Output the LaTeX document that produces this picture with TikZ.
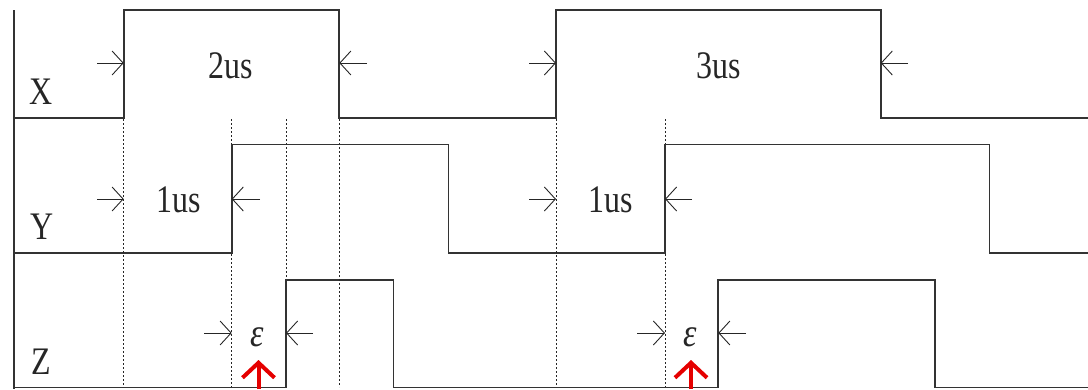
\documentclass[tikz,border=0pt]{standalone}
\usepackage{fontspec}
\setmainfont{Liberation Serif}
\usetikzlibrary{arrows.meta}
\begin{document}
\begin{tikzpicture}[x=1pt,y=-1pt,
  sig/.style={line width=1.7pt, line join=miter, draw=black!80},
  guide/.style={line width=0.9pt, draw=black!85, dash pattern=on 2pt off 2pt},
  dimarrow/.style={line width=0.9pt, draw=black!85, -{Straight Barb[length=11pt,width=24pt]}},
  redarrow/.style={line width=4pt, draw=red!90!black, -{Straight Barb[length=15pt,width=32pt]}},
  lbl/.style={font=\fontsize{39}{42}\selectfont, anchor=base, inner sep=0pt, text=black!85},
  eps/.style={font=\fontsize{40}{42}\selectfont\itshape, anchor=base, inner sep=0pt, text=black!85}
]
\useasboundingbox (0,0) rectangle (1088,389);

% axis
\draw[sig] (14,10) -- (14,389);

% signals
\draw[sig] (14,118) -- (123.7,118) -- (123.7,10) -- (339.3,10) -- (339.3,118)
  -- (556,118) -- (556,10) -- (880.7,10) -- (880.7,118) -- (1088,118);
\draw[sig] (14,253) -- (231.7,253) -- (231.7,144.5) -- (448.5,144.5) -- (448.5,253)
  -- (665,253) -- (665,144.5) -- (989.5,144.5) -- (989.5,253) -- (1088,253);
\draw[sig] (14,387.5) -- (286,387.5) -- (286,280) -- (393.5,280) -- (393.5,387.5)
  -- (718.3,387.5) -- (718.3,280) -- (935,280) -- (935,387.5) -- (1088,387.5);

% guide lines
\draw[guide] (123.7,119) -- (123.7,387);
\draw[guide] (231.7,119) -- (231.7,144);
\draw[guide] (231.7,254) -- (231.7,387);
\draw[guide] (286,119) -- (286,279);
\draw[guide] (339.3,119) -- (339.3,387);
\draw[guide] (556,119) -- (556,387);
\draw[guide] (665,119) -- (665,144);
\draw[guide] (665,254) -- (665,387);

% dimension arrow anchor points
\coordinate (x1a) at (97,63);   \coordinate (x1b) at (123.7,63);
\coordinate (x2a) at (367,63);  \coordinate (x2b) at (339.3,63);
\coordinate (x3a) at (529,63);  \coordinate (x3b) at (556,63);
\coordinate (x4a) at (908,63);  \coordinate (x4b) at (880.7,63);
\coordinate (y1a) at (97,199);  \coordinate (y1b) at (123.7,199);
\coordinate (y2a) at (260,199); \coordinate (y2b) at (231.7,199);
\coordinate (y3a) at (529,199); \coordinate (y3b) at (556,199);
\coordinate (y4a) at (692,199); \coordinate (y4b) at (665,199);
\coordinate (z1a) at (204,333); \coordinate (z1b) at (231.7,333);
\coordinate (z2a) at (313,333); \coordinate (z2b) at (286,333);
\coordinate (z3a) at (637,333); \coordinate (z3b) at (665,333);
\coordinate (z4a) at (746,333); \coordinate (z4b) at (718.3,333);

\foreach \p in {x1,x2,x3,x4,y1,y2,y3,y4,z1,z2,z3,z4}
  \draw[dimarrow] (\p a) -- (\p b);

% red markers
\coordinate (r1a) at (258.5,389); \coordinate (r1b) at (258.5,360);
\coordinate (r2a) at (691,389);   \coordinate (r2b) at (691,360);
\draw[redarrow] (r1a) -- (r1b);
\draw[redarrow] (r2a) -- (r2b);

% labels
\node[lbl] (lx) at (41.5,104.3) {\scalebox{0.82}[1]{X}};
\node[lbl] (ly) at (42.5,239.3) {\scalebox{0.82}[1]{Y}};
\node[lbl] (lz) at (41.7,374.3) {\scalebox{0.82}[1]{Z}};
\node[lbl] (t2) at (231,78.3) {\scalebox{0.82}[1]{2us}};
\node[lbl] (t3) at (718.3,78.3) {\scalebox{0.82}[1]{3us}};
\node[lbl] (t1a) at (178.3,212.7) {\scalebox{0.82}[1]{1us}};
\node[lbl] (t1b) at (611,212.7) {\scalebox{0.82}[1]{1us}};
\node[eps] (e1) at (257.5,346.5) {\scalebox{0.85}[1]{ε}};
\node[eps] (e2) at (690,346.5) {\scalebox{0.85}[1]{ε}};
\end{tikzpicture}
\end{document}
